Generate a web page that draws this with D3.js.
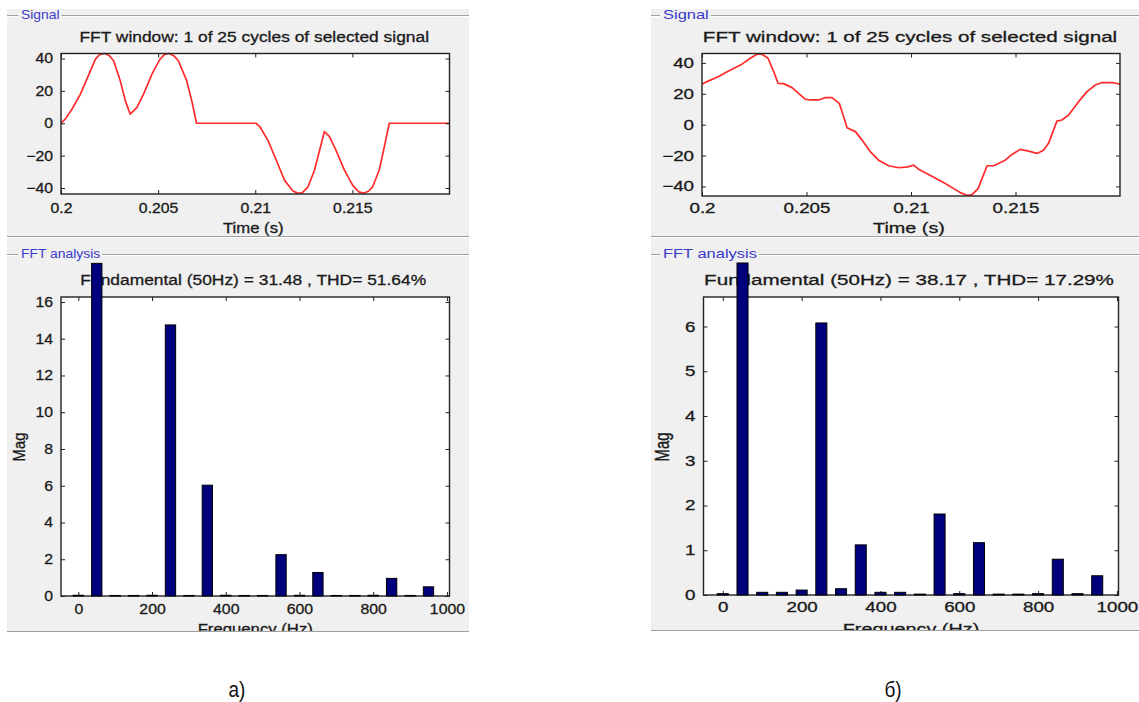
<!DOCTYPE html>
<html>
<head>
<meta charset="utf-8">
<script src="https://cdn.jsdelivr.net/npm/d3@7"></script>
<style>
  body { margin: 0; background: #fff; }
  svg { display: block; }
  text { font-family: 'Liberation Sans', Arial, sans-serif; }
</style>
</head>
<body>
<div id="chart"></div>
<script>
// --- signal (a): one cycle of the selected signal
const sigTimeA = [0.2, 0.20023, 0.20057, 0.2010, 0.20143, 0.20177, 0.20198, 0.20224, 0.20248, 0.20271, 0.20305, 0.20331, 0.20356,
  0.20391, 0.20425, 0.20468, 0.2051, 0.20533, 0.20557, 0.20582, 0.20604, 0.20647, 0.20673, 0.20698, 0.21005, 0.21023, 0.21066,
  0.21109, 0.21151, 0.21194, 0.21215, 0.2124, 0.21271, 0.21305, 0.21331, 0.21356, 0.21382, 0.21416, 0.21459, 0.21502, 0.21533,
  0.21557, 0.21582, 0.21604, 0.21638, 0.21664, 0.2169, 0.22];
const sigValA = [0, 2.7, 8.8, 18, 30, 39.6, 42.3, 43.2, 41.8, 38.6, 26.3, 14, 5.7,
  9.8, 18, 30.3, 39.6, 42.6, 43.2, 41.6, 38.6, 26.3, 14, 0, 0, -2, -10.7,
  -23, -35.3, -41.8, -43, -43.2, -39.4, -29, -16.8, -5.1, -8.2, -16.8, -29, -38.4, -42.4,
  -43.2, -42, -39.4, -29, -14.8, 0, 0];

// --- signal (б)
const sigTimeB = [0.2, 0.20024, 0.2008, 0.20127, 0.20191, 0.20231, 0.20263, 0.20287, 0.20316, 0.20343, 0.20364, 0.2039,
  0.20431, 0.20462, 0.20494, 0.20518, 0.20558, 0.2059, 0.20622, 0.20657, 0.20678, 0.20694, 0.20734, 0.20766, 0.20805,
  0.20845, 0.20893, 0.20941, 0.20985, 0.21013, 0.21036, 0.211, 0.21164, 0.21236, 0.21268, 0.21292, 0.21321, 0.21343,
  0.21364, 0.21395, 0.21451, 0.21483, 0.21523, 0.21563, 0.21603, 0.21634, 0.21658, 0.21682, 0.21698, 0.21722, 0.21754,
  0.21802, 0.21842, 0.21882, 0.21914, 0.21962, 0.22];
const sigValB = [26.2, 27.9, 31.2, 34.8, 39.2, 43, 45.6, 45.6, 43, 34.4, 26.8, 26.6,
  24, 20.3, 16.6, 16, 16, 17.5, 17.5, 13.8, 5.2, -2, -4.5, -10, -17.5,
  -23, -26.6, -27.9, -27.3, -26.2, -28.8, -33.4, -38.1, -44, -45.7, -45.3, -41.4, -33.8,
  -26.6, -26.6, -23, -19.3, -16, -17.1, -18.6, -16.5, -12.1, -3.5, 2.3, 3, 6.2,
  14.9, 21.4, 25.7, 27.3, 27.3, 26.2];

// --- FFT harmonics
const freqs = [0, 50, 100, 150, 200, 250, 300, 350, 400, 450, 500, 550, 600, 650, 700, 750, 800, 850, 900, 950];
const magA = [0.04, 18.1, 0.03, 0.03, 0.04, 14.75, 0.03, 6.03, 0.04, 0.03, 0.03, 2.25, 0.04, 1.28, 0.03, 0.03, 0.04, 0.96, 0.03, 0.5];
const magB = [0.03, 7.42, 0.06, 0.06, 0.11, 6.08, 0.14, 1.12, 0.06, 0.06, 0.02, 1.81, 0.03, 1.17, 0.02, 0.02, 0.03, 0.8, 0.03, 0.43];

// --- ticks and texts
const timeTicks = [0.2, 0.205, 0.21, 0.215];
const timeTickLabels = ['0.2', '0.205', '0.21', '0.215'];
const sigTicks = [-40, -20, 0, 20, 40];
const freqTicks = [0, 200, 400, 600, 800, 1000];
const magTicksA = [0, 2, 4, 6, 8, 10, 12, 14, 16];
const magTicksB = [0, 1, 2, 3, 4, 5, 6];
const sigTitle = 'FFT window: 1 of 25 cycles of selected signal';
const fftTitles = ['Fundamental (50Hz) = 31.48 , THD= 51.64%', 'Fundamental (50Hz) = 38.17 , THD= 17.29%'];
const captions = ['а)', 'б)'];

const width = 1139, height = 702;
const svg = d3.select('#chart').append('svg')
  .attr('width', width)
  .attr('height', height);

// layout of the two panels (screen coords); kx = horizontal stretch of that screenshot
const panels = [
  { box: [7, 9, 469, 633], kx: 1.13, lx: 21,
    sig: { x0: 61, x1: 449.5, y0: 53.5, y1: 194, ydom: [-43.7, 43.1], pad: 9.5 },
    fft: { x0: 61, x1: 449.5, y0: 297, y1: 596, xdom: [-47, 1007], ydom: [0, 16.27], pad: 8 },
    t: sigTimeA, v: sigValA, mag: magA, magTicks: magTicksA, fftTitle: fftTitles[0],
    cap: [237, 697], caption: captions[0] },
  { box: [651, 9, 1139, 632], kx: 1.34, lx: 663,
    sig: { x0: 702, x1: 1120, y0: 53.5, y1: 196, ydom: [-46.2, 46.1], pad: 7 },
    fft: { x0: 703.5, x1: 1118.5, y0: 297, y1: 595, xdom: [-49, 1004], ydom: [0, 6.66], pad: 7.5 },
    t: sigTimeB, v: sigValB, mag: magB, magTicks: magTicksB, fftTitle: fftTitles[1],
    cap: [893, 697], caption: captions[1] }
];

const textCol = '#1a1a1a';
const fmtInt = d3.format('d');
const tickFont = 14, titleFont = 15.4, axisFont = 14.8, groupFont = 12.3;

// dark, slightly heavy text like the screenshot
function ink(sel, size) {
  return sel.attr('font-size', size).attr('fill', textCol)
    .attr('stroke', textCol).attr('stroke-width', 0.3);
}

// text stretched horizontally like the screenshot
function stretchText(g, x, y, str, size, kx, anchor) {
  return g.append('text')
    .attr('transform', `translate(${x},${y}) scale(${kx},1)`)
    .attr('text-anchor', anchor || 'middle')
    .call(ink, size).text(str);
}

function styleAxis(sel, kx, side, pad) {
  sel.select('.domain').remove();
  sel.selectAll('line').attr('stroke', '#222').attr('stroke-width', 1);
  const t = sel.selectAll('text').call(ink, tickFont);
  if (side === 'left') {
    t.attr('x', 0).attr('transform', `translate(${-pad},0) scale(${kx},1)`);
  } else {
    t.attr('transform', `scale(${kx},1)`);
  }
}

// etched group line with a label gap (like a uipanel title)
function groupLine(g, x0, x1, y, text, lx, kx) {
  const t = g.append('text')
    .attr('transform', `translate(${lx},${y + 3.5}) scale(${kx},1)`)
    .attr('font-size', groupFont).attr('fill', '#3a3ac8').text(text);
  const w = t.node().getComputedTextLength() * kx;
  [[x0, lx - 3], [lx + w + 2, x1]].forEach(s => {
    g.append('line').attr('x1', s[0]).attr('x2', s[1]).attr('y1', y).attr('y2', y)
      .attr('stroke', '#a0a0a0');
    g.append('line').attr('x1', s[0]).attr('x2', s[1]).attr('y1', y + 1).attr('y2', y + 1)
      .attr('stroke', '#fff');
  });
}

panels.forEach((p, i) => {
  const [bx0, by0, bx1, by1] = p.box;
  const kx = p.kx;
  const clipId = 'panel' + i;
  svg.append('clipPath').attr('id', clipId)
    .append('rect').attr('x', bx0).attr('y', by0).attr('width', bx1 - bx0).attr('height', by1 - by0);
  const g = svg.append('g').attr('clip-path', `url(#${clipId})`);
  g.append('rect').attr('x', bx0).attr('y', by0).attr('width', bx1 - bx0).attr('height', by1 - by0)
    .attr('fill', '#f0f0f0');

  // ---------- Signal ----------
  const S = p.sig;
  groupLine(g, bx0, bx1, 15.5, 'Signal', p.lx, kx);
  const xs = d3.scaleLinear().domain([0.2, 0.22]).range([S.x0, S.x1]);
  const ys = d3.scaleLinear().domain(S.ydom).range([S.y1, S.y0]);
  g.append('rect').attr('x', S.x0).attr('y', S.y0).attr('width', S.x1 - S.x0).attr('height', S.y1 - S.y0)
    .attr('fill', '#fff');
  stretchText(g, (S.x0 + S.x1) / 2 - 1, 42, sigTitle, titleFont, kx);

  const sclip = 'sig' + i;
  svg.append('clipPath').attr('id', sclip)
    .append('rect').attr('x', S.x0).attr('y', S.y0 - 1).attr('width', S.x1 - S.x0).attr('height', S.y1 - S.y0 + 2);
  const line = d3.line().x(d => xs(d[0])).y(d => ys(d[1]));
  g.append('path').datum(d3.zip(p.t, p.v))
    .attr('clip-path', `url(#${sclip})`)
    .attr('d', line).attr('fill', 'none').attr('stroke', '#ff2b2b').attr('stroke-width', 1.7)
    .attr('stroke-linejoin', 'round');

  g.append('g').attr('transform', `translate(0,${S.y1})`)
    .call(d3.axisBottom(xs).tickValues(timeTicks).tickFormat((d, j) => timeTickLabels[j])
      .tickSize(-4).tickSizeOuter(0).tickPadding(S.pad)).call(styleAxis, kx, 'bottom');
  g.append('g').attr('transform', `translate(0,${S.y0})`)
    .call(d3.axisTop(xs).tickValues(timeTicks).tickFormat('').tickSize(-4).tickSizeOuter(0)).call(styleAxis, kx, 'top');
  g.append('g').attr('transform', `translate(${S.x0},0)`)
    .call(d3.axisLeft(ys).tickValues(sigTicks).tickFormat(fmtInt).tickSize(-4).tickSizeOuter(0))
    .call(styleAxis, kx, 'left', 8);
  g.append('g').attr('transform', `translate(${S.x1},0)`)
    .call(d3.axisRight(ys).tickValues(sigTicks).tickFormat('').tickSize(-4).tickSizeOuter(0)).call(styleAxis, kx, 'right');
  g.append('rect').attr('x', S.x0).attr('y', S.y0).attr('width', S.x1 - S.x0).attr('height', S.y1 - S.y0)
    .attr('fill', 'none').attr('stroke', '#222').attr('stroke-width', 1.4);
  stretchText(g, (S.x0 + S.x1) / 2 - 2, 232.5, 'Time (s)', axisFont, kx);

  // signal panel bottom edge
  g.append('line').attr('x1', bx0).attr('x2', bx1).attr('y1', 236.5).attr('y2', 236.5).attr('stroke', '#a0a0a0');
  g.append('line').attr('x1', bx0).attr('x2', bx1).attr('y1', 237.5).attr('y2', 237.5).attr('stroke', '#fff');

  // ---------- FFT analysis ----------
  const F = p.fft;
  groupLine(g, bx0, bx1, 254.5, 'FFT analysis', p.lx, kx);
  const xf = d3.scaleLinear().domain(F.xdom).range([F.x0, F.x1]);
  const yf = d3.scaleLinear().domain(F.ydom).range([F.y1, F.y0]);
  g.append('rect').attr('x', F.x0).attr('y', F.y0).attr('width', F.x1 - F.x0).attr('height', F.y1 - F.y0)
    .attr('fill', '#fff');
  stretchText(g, (F.x0 + F.x1) / 2 - 2, 285, p.fftTitle, titleFont, kx);

  g.append('g').attr('transform', `translate(0,${F.y1})`)
    .call(d3.axisBottom(xf).tickValues(freqTicks).tickFormat(fmtInt).tickSize(-4).tickSizeOuter(0).tickPadding(F.pad))
    .call(styleAxis, kx, 'bottom');
  g.append('g').attr('transform', `translate(0,${F.y0})`)
    .call(d3.axisTop(xf).tickValues(freqTicks).tickFormat('').tickSize(-4).tickSizeOuter(0)).call(styleAxis, kx, 'top');
  g.append('g').attr('transform', `translate(${F.x0},0)`)
    .call(d3.axisLeft(yf).tickValues(p.magTicks).tickFormat(fmtInt).tickSize(-4).tickSizeOuter(0))
    .call(styleAxis, kx, 'left', 8);
  g.append('g').attr('transform', `translate(${F.x1},0)`)
    .call(d3.axisRight(yf).tickValues(p.magTicks).tickFormat('').tickSize(-4).tickSizeOuter(0)).call(styleAxis, kx, 'right');
  g.append('rect').attr('x', F.x0).attr('y', F.y0).attr('width', F.x1 - F.x0).attr('height', F.y1 - F.y0)
    .attr('fill', 'none').attr('stroke', '#222').attr('stroke-width', 1.4);

  const halfW = 14; // bar half width in Hz
  g.append('g').selectAll('rect')
    .data(d3.zip(freqs, p.mag))
    .enter()
    .append('rect')
    .attr('x', d => xf(d[0] - halfW))
    .attr('width', d => xf(d[0] + halfW) - xf(d[0] - halfW))
    .attr('y', d => yf(d[1]))
    .attr('height', d => yf(0) - yf(d[1]))
    .attr('fill', '#00007c')
    .attr('stroke', '#000')
    .attr('stroke-width', 1);

  g.append('text')
    .attr('transform', `translate(${bx0 + 18},447) scale(${kx},1) rotate(-90)`)
    .attr('text-anchor', 'middle').call(ink, axisFont).text('Mag');
  stretchText(g, (F.x0 + F.x1) / 2, 634, 'Frequency (Hz)', axisFont, kx);

  // panel bottom edge
  g.append('line').attr('x1', bx0).attr('x2', bx1).attr('y1', by1 - 1.5).attr('y2', by1 - 1.5).attr('stroke', '#a0a0a0');
  g.append('line').attr('x1', bx0).attr('x2', bx1).attr('y1', by1 - 0.5).attr('y2', by1 - 0.5).attr('stroke', '#fff');

  // caption under panel
  svg.append('text')
    .attr('transform', `translate(${p.cap[0]},${p.cap[1]}) scale(1,1.2)`)
    .attr('text-anchor', 'middle')
    .attr('font-family', "'Liberation Serif', 'Times New Roman', serif")
    .attr('font-size', 19).attr('fill', '#111').text(p.caption);
});
</script>
</body>
</html>
